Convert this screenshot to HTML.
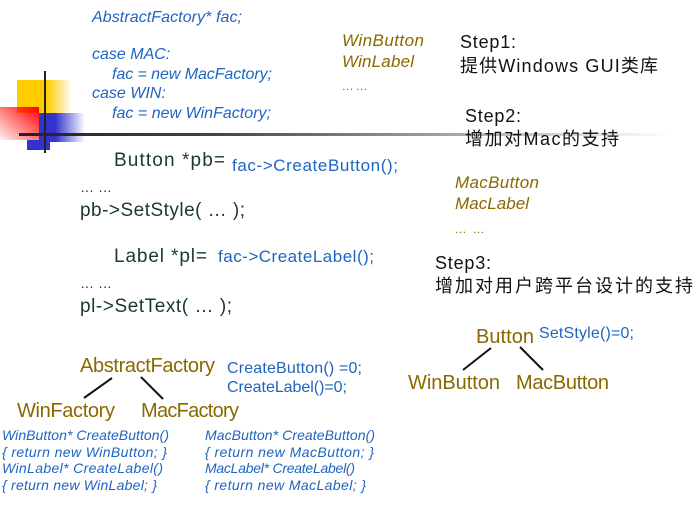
<!DOCTYPE html>
<html><head><meta charset="utf-8"><style>
html,body{margin:0;padding:0;background:#fff;width:693px;height:520px;overflow:hidden}
svg text{font-family:"Liberation Sans","Noto Sans CJK SC",sans-serif}
</style></head><body>
<svg width="693" height="520" xmlns="http://www.w3.org/2000/svg">
<defs>
<linearGradient id="gy" x1="0" x2="1"><stop offset="0.55" stop-color="#ffcc00"/><stop offset="1" stop-color="#ffcc00" stop-opacity="0"/></linearGradient>
<linearGradient id="gb" x1="0" x2="1"><stop offset="0.35" stop-color="#3333cc"/><stop offset="1" stop-color="#3333cc" stop-opacity="0"/></linearGradient>
<linearGradient id="gr" x1="1" y1="0" x2="0" y2="1"><stop offset="0" stop-color="#ff0000"/><stop offset="1" stop-color="#ff0000" stop-opacity="0.05"/></linearGradient>
<linearGradient id="gl" x1="0" x2="1"><stop offset="0" stop-color="#222"/><stop offset="0.3" stop-color="#444"/><stop offset="1" stop-color="#444" stop-opacity="0"/></linearGradient>
</defs>
<rect x="17" y="80" width="55" height="33" fill="url(#gy)"/>
<rect x="39" y="113" width="46" height="29" fill="url(#gb)"/>
<rect x="0" y="107" width="39" height="33" fill="url(#gr)"/>
<rect x="27" y="140" width="23" height="10" fill="#3333cc"/>
<rect x="44" y="71" width="2" height="82" fill="#222"/>
<rect x="19" y="133" width="650" height="3" fill="url(#gl)"/>

<g fill="#1f64c0" font-style="italic" font-size="16">
<text x="92" y="22" textLength="150">AbstractFactory* fac;</text>
<text x="92" y="59">case MAC:</text>
<text x="112" y="79" textLength="160">fac = new MacFactory;</text>
<text x="92" y="98">case WIN:</text>
<text x="112" y="118" textLength="159">fac = new WinFactory;</text>
</g>

<g fill="#1a3a2a" font-size="19">
<text x="114" y="166" textLength="111">Button *pb=</text>
<text x="80" y="192" font-size="14" textLength="32">……</text>
<text x="80" y="216" textLength="165">pb->SetStyle( … );</text>
<text x="114" y="262" textLength="93">Label *pl=</text>
<text x="80" y="288" font-size="14" textLength="32">……</text>
<text x="80" y="312" textLength="152">pl->SetText( … );</text>
</g>
<g fill="#1f64c0" font-size="17">
<text x="232" y="171" textLength="166">fac->CreateButton();</text>
<text x="218" y="262" textLength="156">fac->CreateLabel();</text>
</g>

<g fill="#8a6800" font-size="20">
<text x="80" y="372" textLength="135">AbstractFactory</text>
<text x="17" y="417" textLength="98">WinFactory</text>
<text x="141" y="417" textLength="98">MacFactory</text>
<text x="476" y="343" textLength="58">Button</text>
<text x="408" y="389" textLength="92">WinButton</text>
<text x="516" y="389" textLength="93">MacButton</text>
</g>
<g fill="#1f64c0" font-size="16">
<text x="227" y="373" textLength="135">CreateButton() =0;</text>
<text x="227" y="392" textLength="120">CreateLabel()=0;</text>
<text x="539" y="338" textLength="95">SetStyle()=0;</text>
</g>
<g stroke="#111" stroke-width="2">
<line x1="112" y1="378" x2="84" y2="398"/>
<line x1="141" y1="377" x2="163" y2="399"/>
<line x1="491" y1="348" x2="463" y2="370"/>
<line x1="520" y1="347" x2="543" y2="370"/>
</g>

<g fill="#1f64c0" font-style="italic" font-size="14">
<text x="2" y="440" textLength="167">WinButton* CreateButton()</text>
<text x="2" y="457" textLength="165">{  return new WinButton; }</text>
<text x="2" y="473" textLength="161">WinLabel*   CreateLabel()</text>
<text x="2" y="490" textLength="155">{ return new WinLabel; }</text>
<text x="205" y="440" textLength="170">MacButton* CreateButton()</text>
<text x="205" y="457" textLength="169">{  return new MacButton; }</text>
<text x="205" y="473" textLength="150">MacLabel* CreateLabel()</text>
<text x="205" y="490" textLength="161">{  return new MacLabel; }</text>
</g>

<g fill="#8a6800" font-style="italic" font-size="17">
<text x="342" y="46" textLength="82">WinButton</text>
<text x="342" y="67" textLength="72">WinLabel</text>
<text x="342" y="90" font-size="12" textLength="26">……</text>
<text x="455" y="188" textLength="84">MacButton</text>
<text x="455" y="209" textLength="74">MacLabel</text>
<text x="455" y="233" font-size="12" textLength="30">……</text>
</g>

<g fill="#111" font-size="18">
<text x="460" y="48" textLength="56">Step1:</text>
<text x="460" y="72" textLength="198">提供Windows GUI类库</text>
<text x="465" y="122" textLength="56">Step2:</text>
<text x="465" y="145" textLength="154">增加对Mac的支持</text>
<text x="435" y="269" textLength="56">Step3:</text>
<text x="435" y="292" textLength="258">增加对用户跨平台设计的支持</text>
</g>
</svg>
</body></html>
